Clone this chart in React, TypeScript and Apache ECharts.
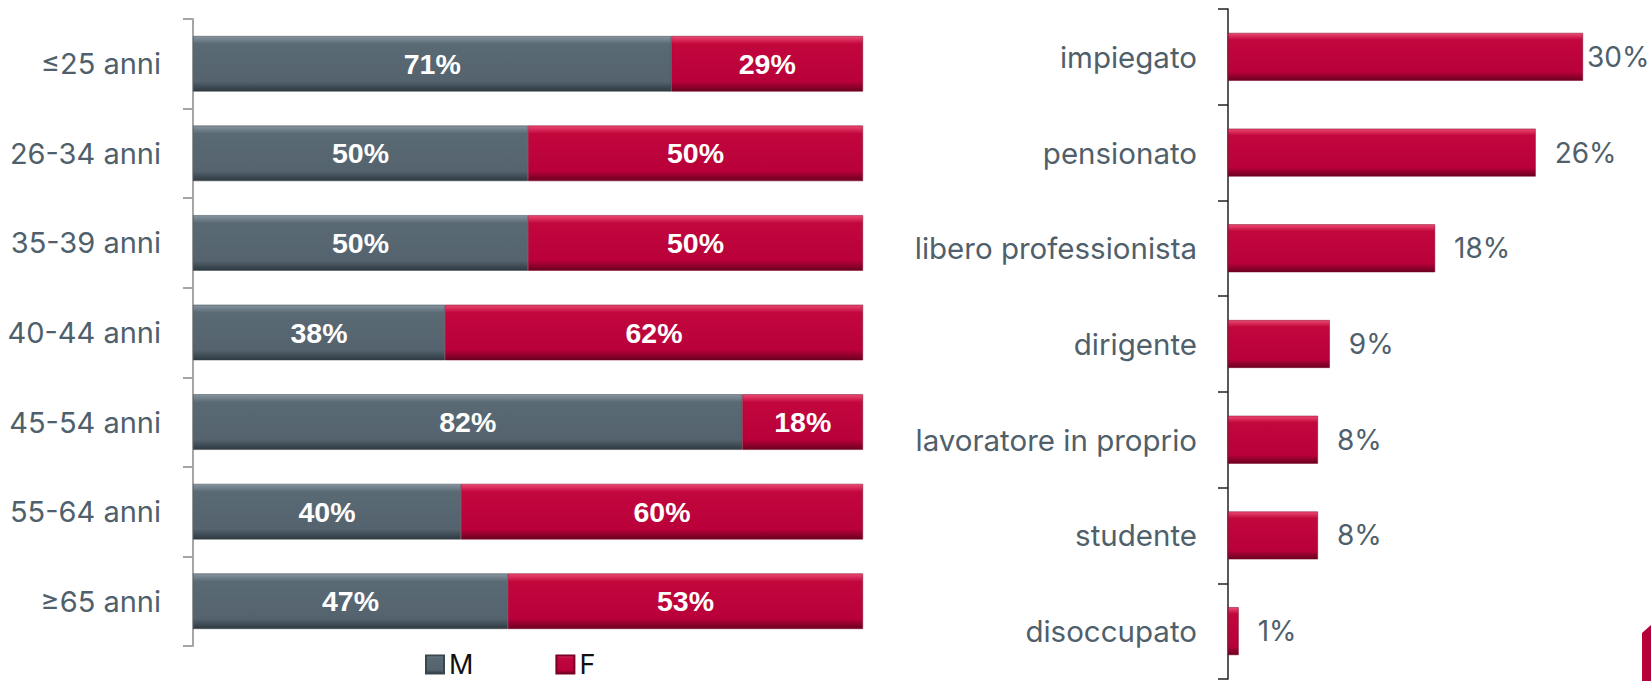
import React, { useEffect, useRef } from "react";
import * as echarts from "echarts";

const ageCategories = ["≤25 anni", "26-34 anni", "35-39 anni", "40-44 anni", "45-54 anni", "55-64 anni", "≥65 anni"];
const maleValues = [71.4, 50, 50, 37.6, 82, 40, 47];
const femaleValues = [28.6, 50, 50, 62.4, 18, 60, 53];

const jobCategories = ["impiegato", "pensionato", "libero professionista", "dirigente", "lavoratore in proprio", "studente", "disoccupato"];
const jobValues = [30, 26, 17.5, 8.6, 7.6, 7.6, 0.9];

const FONT = "Inter, 'Noto Sans', sans-serif";
const BOLD = "'Liberation Sans', Arial, sans-serif";
const SLATE = "#4f5f6b";

const grad = (c0: string, c1: string, c2: string, c3: string) =>
  new echarts.graphic.LinearGradient(0, 0, 0, 1, [
    { offset: 0, color: c0 },
    { offset: 0.14, color: c1 },
    { offset: 0.82, color: c2 },
    { offset: 1, color: c3 },
  ]);

export default function App() {
  const ref = useRef<HTMLDivElement>(null);
  useEffect(() => {
    document.body.style.margin = "0";
    const chart = echarts.init(ref.current!, null, { renderer: "svg" });
    const grey = grad("#8795a0", "#5a6a75", "#54636e", "#2e3941");
    const red = grad("#ec4a72", "#c2073d", "#b9003a", "#6a0020");
    const valueLabel = {
      show: true,
      position: "inside",
      color: "#fff",
      fontWeight: "bold",
      fontSize: 28.5,
      fontFamily: BOLD,
      formatter: (p: any) => Math.round(p.value) + "%",
    };
    chart.setOption({
      animation: false,
      textStyle: { fontFamily: FONT },
      legend: {
        data: ["M", "F"],
        left: 425,
        top: 651,
        itemWidth: 18,
        itemHeight: 18,
        itemGap: 82,
        icon: "rect",
        padding: 0,
        textStyle: { fontSize: 27, lineHeight: 27, color: "#111", fontFamily: FONT },
      },
      grid: [
        { left: 193, top: 19, width: 670, height: 627 },
        { left: 1228, top: 9, width: 355, height: 670 },
      ],
      xAxis: [
        { gridIndex: 0, type: "value", min: 0, max: 100, show: false },
        { gridIndex: 1, type: "value", min: 0, max: 30, show: false },
      ],
      yAxis: [
        {
          gridIndex: 0,
          type: "category",
          data: ageCategories,
          inverse: true,
          axisLine: { show: true, lineStyle: { color: "#a6a6a6", width: 2 } },
          axisTick: { show: true, length: 10, lineStyle: { color: "#a6a6a6", width: 2 } },
          axisLabel: { fontSize: 29, color: SLATE, margin: 32, fontFamily: FONT },
        },
        {
          gridIndex: 1,
          type: "category",
          data: jobCategories,
          inverse: true,
          axisLine: { show: true, lineStyle: { color: "#222", width: 1.5 } },
          axisTick: { show: true, length: 10, lineStyle: { color: "#222", width: 1.5 } },
          axisLabel: { fontSize: 29.5, color: SLATE, margin: 31, fontFamily: FONT },
        },
      ],
      series: [
        {
          name: "M",
          type: "bar",
          stack: "a",
          xAxisIndex: 0,
          yAxisIndex: 0,
          barWidth: "62%",
          data: maleValues,
          itemStyle: { color: grey, borderColor: "#3a464e", borderWidth: 0.5 },
          label: valueLabel,
        },
        {
          name: "F",
          type: "bar",
          stack: "a",
          xAxisIndex: 0,
          yAxisIndex: 0,
          barWidth: "62%",
          data: femaleValues,
          itemStyle: { color: red, borderColor: "#7a0025", borderWidth: 0.5 },
          label: valueLabel,
        },
        {
          name: "Professione",
          type: "bar",
          xAxisIndex: 1,
          yAxisIndex: 1,
          barWidth: "50%",
          data: jobValues.map((v, i) =>
            i === 0 ? { value: v, label: { distance: 4 } } : v
          ),
          itemStyle: { color: red, borderColor: "#7a0025", borderWidth: 0.5 },
          label: {
            show: true,
            position: "right",
            distance: 19,
            color: SLATE,
            fontSize: 28,
            fontFamily: FONT,
            formatter: (p: any) => Math.round(p.value) + "%",
          },
        },
      ],
      graphic: [
        {
          type: "polygon",
          shape: { points: [[1642, 633], [1651, 625], [1651, 681], [1642, 681]] },
          style: { fill: "#b5003a" },
        },
      ],
    });
    return () => chart.dispose();
  }, []);
  return <div ref={ref} style={{ position: "absolute", left: 0, top: 0, width: 1651, height: 681 }} />;
}
